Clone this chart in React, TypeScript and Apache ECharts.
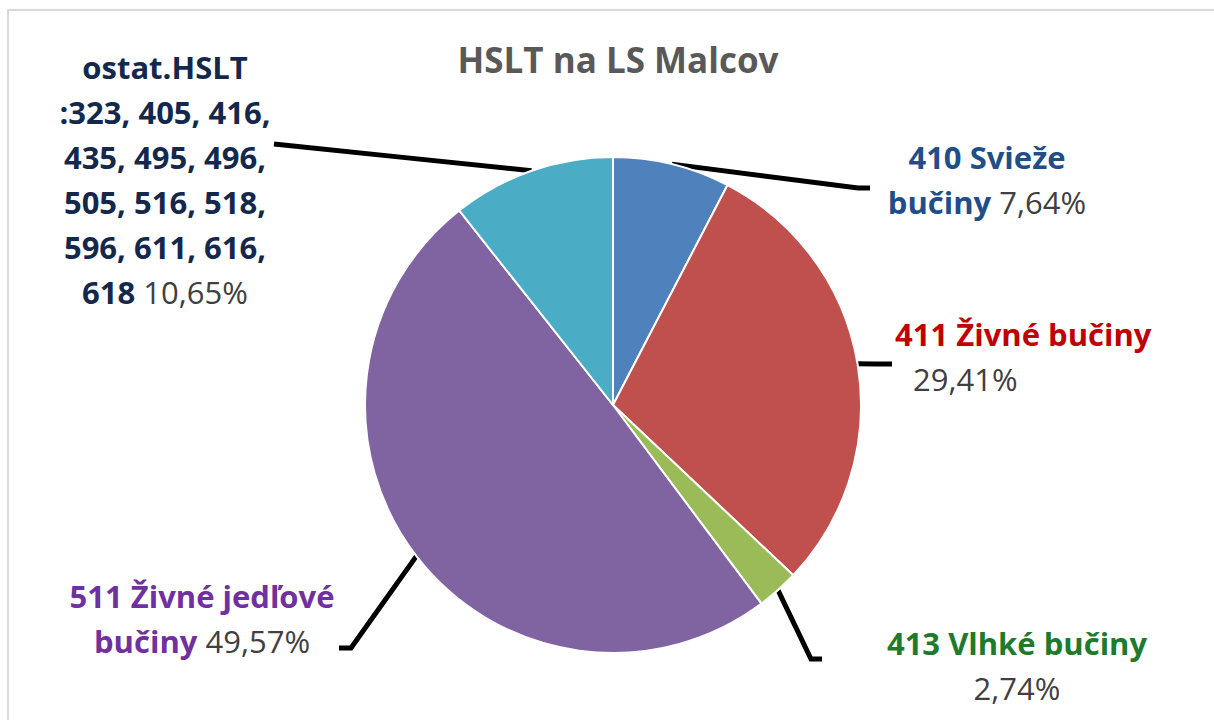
import React, { useEffect, useRef } from "react";
import * as echarts from "echarts";

const TITLE = "HSLT na LS Malcov";
const categories = [
  "410 Svieže\nbučiny",
  "411 Živné bučiny",
  "413 Vlhké bučiny",
  "511 Živné jedľové\nbučiny",
  "ostat.HSLT\n:323, 405, 416,\n435, 495, 496,\n505, 516, 518,\n596, 611, 616,\n618",
];
const values = [7.64, 29.41, 2.74, 49.57, 10.65];
const sliceColors = ["#4F81BD", "#C0504D", "#9BBB59", "#8064A2", "#4BACC6"];
const labelColors = ["#1F4E89", "#C00000", "#1E7A2C", "#7030A0", "#14284B"];
const valueBreaks = [" ", "\n", "\n", " ", " "];

// label layout (position only)
const labelPos = [
  { x: 987, y: 179, align: "center", elbow: [858, 188], end: [870, 188] },
  { x: 895, y: 356, align: "left", elbow: [875, 364], end: [892, 364] },
  { x: 1017, y: 665, align: "center", elbow: [811, 659], end: [822, 659] },
  { x: 202, y: 618, align: "center", elbow: [351, 648], end: [339, 648] },
  { x: 165, y: 179, align: "center", elbow: [400, 156], end: [274, 144] },
];

const FONT = "Open Sans";
const FS = 31;

export default function App() {
  const ref = useRef<HTMLDivElement>(null);
  useEffect(() => {
    if (!ref.current) return;
    const chart = echarts.init(ref.current, null, { renderer: "svg" });
    const rich: any = {
      v: { color: "#404040", fontWeight: "normal", fontSize: FS, fontFamily: FONT, lineHeight: 45 },
      p: { color: "#404040", fontWeight: "normal", fontSize: FS, fontFamily: FONT, lineHeight: 45, padding: [0, 0, 0, 18] },
    };
    labelColors.forEach((c, i) => {
      rich["n" + i] = { color: c, fontWeight: "bold", fontSize: FS, fontFamily: FONT, lineHeight: 45 };
    });
    chart.setOption({
      animation: false,
      backgroundColor: "#ffffff",
      title: {
        text: TITLE,
        left: 613,
        top: 37,
        textAlign: "center",
        textStyle: { color: "#595959", fontSize: 35, fontWeight: "bold", fontFamily: FONT },
      },
      graphic: [
        {
          type: "rect",
          shape: { x: 8, y: 10, width: 1230, height: 740 },
          style: { fill: "none", stroke: "#d9d9d9", lineWidth: 2 },
          silent: true,
        },
      ],
      series: [
        {
          type: "pie",
          center: [613, 405],
          radius: 248,
          startAngle: 90,
          clockwise: true,
          avoidLabelOverlap: false,
          itemStyle: { borderColor: "#ffffff", borderWidth: 2 },
          data: categories.map((name, i) => ({
            name,
            value: values[i],
            itemStyle: { color: sliceColors[i] },
          })),
          label: {
            show: true,
            position: "outside",
            rich,
            formatter: (p: any) => {
              const i = p.dataIndex;
              const lines = String(p.name).split("\n").map((s: string) => `{n${i}|${s}}`).join("\n");
              const val = Number(p.value).toFixed(2).replace(".", ",") + "%";
              if (i === 1) return lines + "\n" + `{p|${val}}`;
              if (valueBreaks[i] === "\n") return lines + "\n" + `{v|${val}}`;
              return lines + `{v|\u00a0${val}}`;
            },
          },
          labelLine: { show: true, lineStyle: { color: "#000000", width: 5 } },
          labelLayout: (params: any) => {
            const i = params.dataIndex;
            const lp = labelPos[i];
            const a = params.labelLinePoints ? params.labelLinePoints[0] : lp.elbow;
            const pts = i === 4 ? [a, [(a[0] + lp.end[0]) / 2, (a[1] + lp.end[1]) / 2], lp.end] : [a, lp.elbow, lp.end];
            return {
              x: lp.x,
              y: lp.y,
              align: lp.align,
              verticalAlign: "middle",
              labelLinePoints: pts,
            };
          },
        },
      ],
    });
    return () => chart.dispose();
  }, []);
  return (
    <div
      ref={ref}
      style={{ position: "fixed", left: 0, top: 0, width: 1214, height: 720, background: "#fff" }}
    />
  );
}
